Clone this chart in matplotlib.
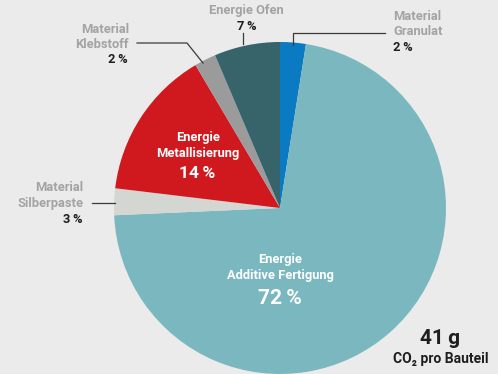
import matplotlib
matplotlib.use("Agg")
import matplotlib.pyplot as plt

plt.rcParams['font.family'] = ['Roboto', 'DejaVu Sans']

# slices, clockwise from 12 o'clock
names = ["Material Granulat", "Energie Additive Fertigung", "Material Silberpaste",
         "Energie Metallisierung", "Material Klebstoff", "Energie Ofen"]
shares = [2.5, 71.8, 2.6, 14.6, 2.1, 6.4]
colors = ["#0a7bc2", "#7ab7bf", "#d4d6d1", "#d0191e", "#9b9b9b", "#37636b"]
labels = ["2\u2009%", "72\u2009%", "3\u2009%", "14\u2009%", "2\u2009%", "7\u2009%"]

bg = "#ebebeb"
grey_txt = "#a3a3a3"
dark_txt = "#1e1e1e"

W, H = 498, 374
fig = plt.figure(figsize=(W / 100, H / 100), dpi=100, facecolor=bg)
ax = fig.add_axes([0, 0, 1, 1])
ax.set_facecolor(bg)

ax.pie(shares, colors=colors, startangle=90, counterclock=False,
       center=(280, H - 208), radius=166, frame=True,
       wedgeprops=dict(linewidth=0))
ax.set_xlim(0, W)
ax.set_ylim(0, H)
ax.set_aspect("equal")
ax.axis("off")

def Y(y):
    return H - y

def txt(x, y, s, color, size=9.3, ha="center"):
    ax.text(x, Y(y), s, color=color, fontsize=size, ha=ha, va="center",
            fontweight="bold")

# outside labels
txt(246, 10, "Energie Ofen", grey_txt)
txt(247, 26, labels[5], dark_txt)

txt(393, 16, "Material", grey_txt, ha="left")
txt(393, 31, "Granulat", grey_txt, ha="left")
txt(393, 47, labels[0], dark_txt, ha="left")

txt(129, 29, "Material", grey_txt, ha="right")
txt(129, 44, "Klebstoff", grey_txt, ha="right")
txt(128, 59, labels[4], dark_txt, ha="right")

txt(83, 187, "Material", grey_txt, ha="right")
txt(83, 203, "Silberpaste", grey_txt, ha="right")
txt(82, 219, labels[2], dark_txt, ha="right")

# inside labels
txt(198, 137, "Energie", "white")
txt(198, 153, "Metallisierung", "white")
txt(197, 173, labels[3], "white", size=12.5)

txt(280, 259, "Energie", "white")
txt(280, 275, "Additive Fertigung", "white")
txt(280, 298, labels[1], "white", size=15)

# total
txt(440, 338, "41\u2009g", dark_txt, size=15)
txt(441, 359, "CO\u2082 pro Bauteil", dark_txt, size=10)

# leader lines
lc = "#3a3a3a"
ax.plot([243, 243], [Y(33), Y(44)], color=lc, lw=0.9)
ax.plot([293, 293, 385], [Y(45), Y(33), Y(33)], color=lc, lw=0.9)
ax.plot([137, 187, 203], [Y(43), Y(43), Y(63)], color=lc, lw=0.9)
ax.plot([92, 115], [Y(203), Y(203)], color=lc, lw=0.9)

fig.savefig("out.png", dpi=100, facecolor=bg)
